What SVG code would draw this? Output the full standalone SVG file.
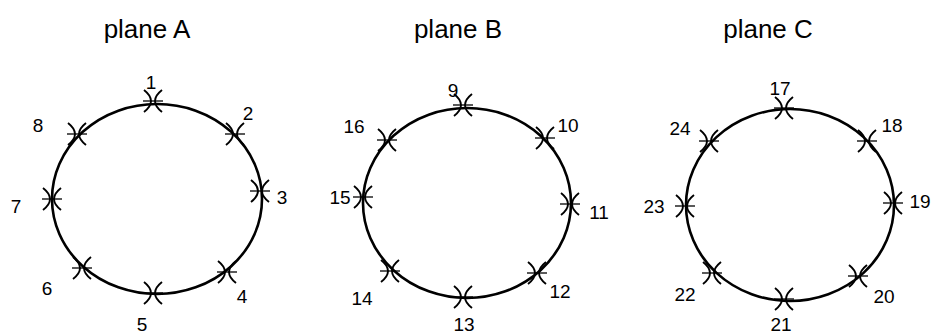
<svg xmlns="http://www.w3.org/2000/svg" xmlns:xlink="http://www.w3.org/1999/xlink" width="933" height="336" viewBox="0 0 933 336">
<style>
.title{font-family:"Liberation Sans",Arial,sans-serif;font-size:26px;fill:#000;text-anchor:middle}
.lbl{font-family:"Liberation Sans",Arial,sans-serif;font-size:19px;fill:#000;text-anchor:middle}
.orbit{fill:none;stroke:#000;stroke-width:2.6}
.sat{fill:none;stroke:#000;stroke-width:1.9}
</style>
<defs>
<g id="sat" class="sat">
<path d="M-9,-11 Q5,0 -9,11 M9,-11 Q-5,0 9,11"/>
<path d="M-10,0 H10" stroke-width="1.3"/>
</g>
</defs>
<rect width="933" height="336" fill="#fff"/>
<g id="titles">
<text class="title" x="147" y="38">plane A</text>
<text class="title" x="458" y="38">plane B</text>
<text class="title" x="768" y="38">plane C</text>
</g>
<g id="connectors">
<ellipse class="orbit" cx="157" cy="199" rx="105" ry="95"/>
<ellipse class="orbit" cx="467" cy="203" rx="104" ry="95"/>
<ellipse class="orbit" cx="790" cy="205" rx="104" ry="96"/>
</g>
<g id="planeA">
<g id="n1"><use xlink:href="#sat" x="153" y="101"/><text class="lbl" x="151" y="89">1</text></g>
<g id="n2"><use xlink:href="#sat" x="235" y="134"/><text class="lbl" x="248" y="120">2</text></g>
<g id="n3"><use xlink:href="#sat" x="260" y="191"/><text class="lbl" x="282" y="204">3</text></g>
<g id="n4"><use xlink:href="#sat" x="227" y="272"/><text class="lbl" x="242" y="303">4</text></g>
<g id="n5"><use xlink:href="#sat" x="153" y="293"/><text class="lbl" x="142" y="331">5</text></g>
<g id="n6"><use xlink:href="#sat" x="82" y="268"/><text class="lbl" x="47" y="295">6</text></g>
<g id="n7"><use xlink:href="#sat" x="52" y="199"/><text class="lbl" x="16" y="213">7</text></g>
<g id="n8"><use xlink:href="#sat" x="77" y="134"/><text class="lbl" x="38" y="132">8</text></g>
</g>
<g id="planeB">
<g id="n9"><use xlink:href="#sat" x="463" y="105"/><text class="lbl" x="453" y="97">9</text></g>
<g id="n10"><use xlink:href="#sat" x="545" y="138"/><text class="lbl" x="568" y="132">10</text></g>
<g id="n11"><use xlink:href="#sat" x="570" y="204"/><text class="lbl" x="599" y="219">11</text></g>
<g id="n12"><use xlink:href="#sat" x="537" y="273"/><text class="lbl" x="560" y="298">12</text></g>
<g id="n13"><use xlink:href="#sat" x="463" y="297"/><text class="lbl" x="464" y="331">13</text></g>
<g id="n14"><use xlink:href="#sat" x="390" y="271"/><text class="lbl" x="362" y="305">14</text></g>
<g id="n15"><use xlink:href="#sat" x="363" y="197"/><text class="lbl" x="340" y="204">15</text></g>
<g id="n16"><use xlink:href="#sat" x="387" y="140"/><text class="lbl" x="354" y="133">16</text></g>
</g>
<g id="planeC">
<g id="n17"><use xlink:href="#sat" x="784" y="108"/><text class="lbl" x="780" y="95">17</text></g>
<g id="n18"><use xlink:href="#sat" x="867" y="141"/><text class="lbl" x="892" y="132">18</text></g>
<g id="n19"><use xlink:href="#sat" x="893" y="203"/><text class="lbl" x="920" y="208">19</text></g>
<g id="n20"><use xlink:href="#sat" x="858" y="276"/><text class="lbl" x="884" y="303">20</text></g>
<g id="n21"><use xlink:href="#sat" x="784" y="299"/><text class="lbl" x="781" y="331">21</text></g>
<g id="n22"><use xlink:href="#sat" x="712" y="273"/><text class="lbl" x="685" y="301">22</text></g>
<g id="n23"><use xlink:href="#sat" x="685" y="206"/><text class="lbl" x="654" y="213">23</text></g>
<g id="n24"><use xlink:href="#sat" x="709" y="141"/><text class="lbl" x="680" y="135">24</text></g>
</g>
</svg>
